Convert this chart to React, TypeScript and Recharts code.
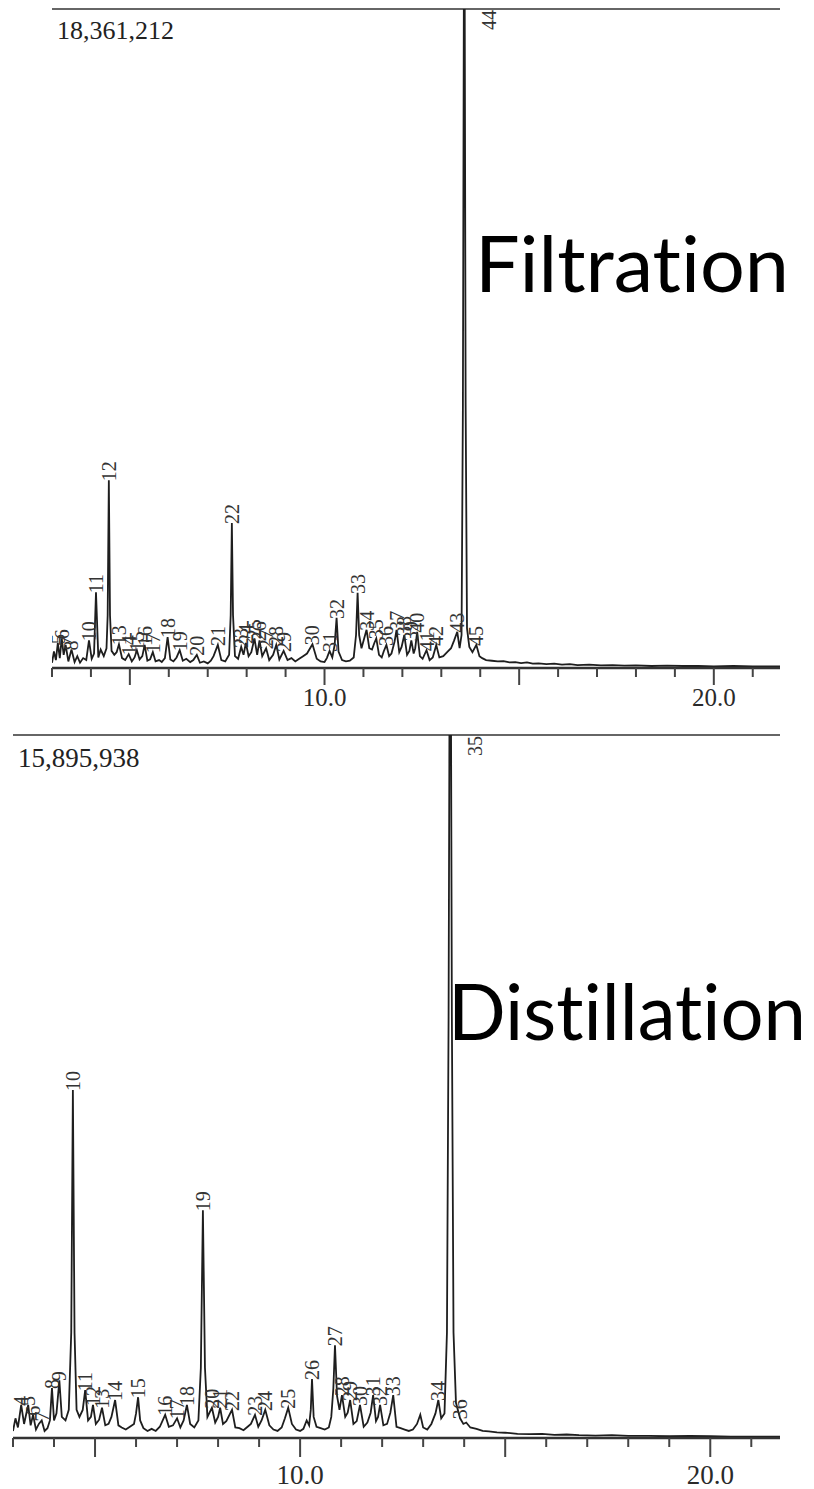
import {
  ComposedChart,
  Line,
  Scatter,
  XAxis,
  YAxis,
  ReferenceLine,
} from "recharts";

// retention time (min) vs. intensity (% of full scale)
const FILT_TRACE: [number, number][] = [
  [3.0, 0.8], [3.05, 2.5], [3.1, 1.2], [3.15, 3.8], [3.2, 1.5], [3.25, 4.5],
  [3.3, 2.0], [3.35, 3.5], [3.42, 1.0], [3.5, 2.8], [3.58, 0.9], [3.65, 1.8],
  [3.72, 0.8], [3.8, 1.5], [3.88, 1.2], [3.95, 4.2], [4.02, 1.4], [4.08, 2.2],
  [4.13, 11.5], [4.19, 1.6], [4.25, 2.8], [4.33, 1.8], [4.4, 3.0], [4.43, 8],
  [4.46, 28.5], [4.49, 8], [4.53, 2.6], [4.6, 2.0], [4.66, 2.4], [4.72, 3.6],
  [4.8, 1.5], [4.88, 1.2], [4.97, 2.1], [5.05, 1.0], [5.12, 1.6], [5.18, 2.7],
  [5.25, 1.3], [5.32, 1.8], [5.38, 3.5], [5.45, 1.1], [5.52, 1.3], [5.59, 2.4],
  [5.66, 1.0], [5.75, 1.2], [5.82, 0.9], [5.9, 1.5], [5.97, 4.7], [6.04, 1.3],
  [6.12, 1.0], [6.2, 1.6], [6.28, 2.7], [6.36, 1.1], [6.45, 1.4], [6.55, 0.9],
  [6.63, 1.2], [6.72, 2.0], [6.8, 0.8], [6.9, 1.0], [7.0, 0.7], [7.08, 1.1],
  [7.15, 1.8], [7.26, 3.5], [7.35, 1.2], [7.45, 1.0], [7.55, 2.0], [7.59, 8],
  [7.62, 22], [7.65, 8], [7.7, 1.8], [7.78, 1.4], [7.86, 3.2], [7.92, 2.0],
  [7.98, 3.8], [8.05, 1.8], [8.12, 2.4], [8.2, 4.5], [8.27, 2.0], [8.33, 4.2],
  [8.4, 1.8], [8.5, 3.0], [8.58, 1.2], [8.68, 2.0], [8.76, 3.5], [8.84, 1.3],
  [8.95, 2.6], [9.05, 1.2], [9.15, 1.5], [9.25, 1.0], [9.35, 1.4], [9.45, 1.8],
  [9.55, 2.2], [9.69, 3.6], [9.8, 1.4], [9.9, 1.0], [10.0, 0.9], [10.06, 1.5],
  [10.13, 2.6], [10.2, 1.6], [10.26, 3.5], [10.31, 7.6], [10.36, 2.5],
  [10.45, 1.2], [10.55, 1.0], [10.65, 1.1], [10.75, 1.6], [10.81, 5],
  [10.85, 11.4], [10.89, 5], [10.95, 3.0], [11.02, 4.5], [11.08, 5.8],
  [11.15, 3.0], [11.22, 2.8], [11.28, 3.8], [11.33, 4.5], [11.4, 2.0],
  [11.47, 1.6], [11.52, 2.5], [11.59, 3.5], [11.66, 1.8], [11.72, 2.2],
  [11.8, 4.0], [11.85, 5.8], [11.92, 2.4], [11.98, 3.2], [12.05, 5.0],
  [12.12, 2.0], [12.18, 2.6], [12.23, 4.2], [12.29, 2.2], [12.33, 3.0],
  [12.38, 5.5], [12.45, 1.8], [12.52, 1.4], [12.62, 2.7], [12.7, 1.2],
  [12.78, 1.6], [12.87, 3.5], [12.95, 1.6], [13.05, 1.8], [13.15, 2.4],
  [13.25, 3.0], [13.33, 4.2], [13.41, 5.5], [13.47, 3.0], [13.52, 5],
  [13.555, 40], [13.59, 130], [13.625, 40], [13.66, 6], [13.72, 3.2],
  [13.8, 2.4], [13.9, 3.5], [13.98, 1.8], [14.05, 1.5], [14.15, 1.2],
  [14.3, 1.1], [14.45, 1.0], [14.6, 1.05], [14.75, 0.85], [14.9, 0.9],
  [15.05, 0.75], [15.2, 0.85], [15.35, 0.65], [15.5, 0.7], [15.7, 0.6],
  [15.9, 0.65], [16.1, 0.5], [16.3, 0.6], [16.5, 0.45], [16.8, 0.5],
  [17.1, 0.4], [17.4, 0.45], [17.7, 0.35], [18.0, 0.4], [18.4, 0.3],
  [18.8, 0.35], [19.2, 0.3], [19.6, 0.3], [20.0, 0.25], [20.5, 0.3],
  [21.0, 0.25], [21.7, 0.25],
];

const FILT_LABELS: [string, number, number][] = [
  ["5", 3.15, 3.8], ["6", 3.25, 4.5], ["7", 3.35, 3.5], ["8", 3.5, 2.8],
  ["10", 3.95, 4.2], ["11", 4.13, 11.5], ["12", 4.46, 28.5], ["13", 4.72, 3.6],
  ["14", 4.97, 2.1], ["15", 5.18, 2.7], ["16", 5.38, 3.5], ["17", 5.59, 2.4],
  ["18", 5.97, 4.7], ["19", 6.28, 2.7], ["20", 6.72, 2.0], ["21", 7.26, 3.5],
  ["22", 7.62, 22], ["23", 7.86, 3.2], ["24", 7.98, 3.8], ["25", 8.2, 4.5],
  ["26", 8.33, 4.2], ["27", 8.5, 3.0], ["28", 8.76, 3.5], ["29", 8.95, 2.6],
  ["30", 9.69, 3.6], ["31", 10.13, 2.6], ["32", 10.31, 7.6], ["33", 10.85, 11.4],
  ["34", 11.08, 5.8], ["35", 11.33, 4.5], ["36", 11.59, 3.5], ["37", 11.85, 5.8],
  ["38", 12.05, 5.0], ["39", 12.23, 4.2], ["40", 12.38, 5.5], ["41", 12.62, 2.7],
  ["42", 12.87, 3.5], ["43", 13.41, 5.5], ["44", 13.59, 130], ["45", 13.9, 3.5],
];

const DIST_TRACE: [number, number][] = [
  [3.0, 1.0], [3.06, 2.8], [3.12, 1.5], [3.2, 4.7], [3.27, 2.0], [3.37, 4.7],
  [3.43, 1.8], [3.49, 3.3], [3.56, 1.2], [3.63, 2.0], [3.7, 2.5], [3.77, 1.0],
  [3.84, 1.4], [3.9, 2.5], [3.95, 7.1], [4.0, 2.5], [4.06, 3.5], [4.13, 8.2],
  [4.19, 3.0], [4.28, 2.5], [4.36, 4], [4.42, 15], [4.46, 49.5], [4.5, 15],
  [4.55, 4.0], [4.62, 3.0], [4.7, 4.0], [4.76, 6.8], [4.83, 2.5], [4.9, 3.0],
  [4.95, 4.7], [5.02, 2.0], [5.1, 2.6], [5.17, 4.3], [5.25, 1.8], [5.33, 2.0],
  [5.4, 3.0], [5.49, 5.4], [5.57, 1.8], [5.65, 1.5], [5.75, 1.2], [5.85, 1.6],
  [5.95, 2.0], [6.0, 3.5], [6.05, 5.8], [6.1, 2.5], [6.18, 1.4], [6.28, 1.0],
  [6.38, 1.3], [6.48, 1.0], [6.58, 1.6], [6.71, 3.3], [6.8, 1.6], [6.9, 1.8],
  [7.0, 2.8], [7.08, 1.5], [7.16, 2.5], [7.24, 4.7], [7.32, 2.0], [7.42, 1.5],
  [7.52, 2.5], [7.58, 10], [7.63, 32.4], [7.68, 10], [7.74, 3.0], [7.85, 4.3],
  [7.93, 2.2], [8.0, 3.0], [8.05, 4.3], [8.12, 2.0], [8.2, 2.4], [8.34, 4.0],
  [8.42, 1.5], [8.52, 1.4], [8.62, 1.1], [8.72, 1.6], [8.8, 2.0], [8.9, 3.3],
  [8.98, 1.6], [9.06, 2.5], [9.15, 4.0], [9.25, 1.8], [9.35, 1.2], [9.45, 1.0],
  [9.55, 1.5], [9.63, 2.8], [9.71, 4.3], [9.8, 2.0], [9.9, 1.2], [10.0, 1.0],
  [10.08, 1.3], [10.16, 2.5], [10.22, 1.8], [10.26, 4], [10.29, 8.4],
  [10.33, 3.0], [10.4, 1.6], [10.5, 1.4], [10.6, 1.2], [10.7, 1.5],
  [10.76, 3.0], [10.81, 7], [10.85, 13.2], [10.9, 6], [10.96, 4.0],
  [11.02, 6.1], [11.1, 3.0], [11.16, 3.6], [11.22, 5.4], [11.3, 2.0],
  [11.38, 2.4], [11.46, 4.7], [11.55, 1.6], [11.64, 2.2], [11.72, 3.6],
  [11.78, 6.1], [11.85, 2.4], [11.9, 3.0], [11.95, 4.7], [12.03, 1.8],
  [12.12, 2.0], [12.2, 3.6], [12.27, 6.1], [12.35, 1.6], [12.45, 1.4],
  [12.55, 1.2], [12.65, 1.0], [12.75, 1.2], [12.85, 2.0], [12.93, 3.3],
  [13.0, 1.5], [13.1, 1.2], [13.2, 2.0], [13.3, 3.5], [13.37, 5.4],
  [13.44, 2.8], [13.52, 3.5], [13.58, 15], [13.62, 60], [13.66, 140],
  [13.7, 60], [13.74, 15], [13.8, 5.0], [13.9, 2.8], [13.98, 2.0],
  [14.05, 2.2], [14.15, 1.5], [14.3, 1.3], [14.45, 1.0], [14.6, 0.95],
  [14.8, 0.8], [15.0, 0.75], [15.3, 0.6], [15.6, 0.55], [15.9, 0.6],
  [16.2, 0.45], [16.5, 0.5], [16.8, 0.4], [17.2, 0.35], [17.6, 0.4],
  [18.0, 0.3], [18.5, 0.3], [19.0, 0.25], [19.5, 0.3], [20.0, 0.25],
  [20.5, 0.2], [21.0, 0.2], [21.7, 0.2],
];

const DIST_LABELS: [string, number, number][] = [
  ["4", 3.2, 4.7], ["5", 3.37, 4.7], ["6", 3.49, 3.3], ["7", 3.7, 2.5],
  ["8", 3.95, 7.1], ["9", 4.13, 8.2], ["10", 4.46, 49.5], ["11", 4.76, 6.8],
  ["12", 4.95, 4.7], ["13", 5.17, 4.3], ["14", 5.49, 5.4], ["15", 6.05, 5.8],
  ["16", 6.71, 3.3], ["17", 7.0, 2.8], ["18", 7.24, 4.7], ["19", 7.63, 32.4],
  ["20", 7.85, 4.3], ["21", 8.05, 4.3], ["22", 8.34, 4.0], ["23", 8.9, 3.3],
  ["24", 9.15, 4.0], ["25", 9.71, 4.3], ["26", 10.29, 8.4], ["27", 10.85, 13.2],
  ["28", 11.02, 6.1], ["29", 11.22, 5.4], ["30", 11.46, 4.7], ["31", 11.78, 6.1],
  ["32", 11.95, 4.7], ["33", 12.27, 6.1], ["34", 13.37, 5.4], ["35", 13.66, 140],
  ["36", 13.9, 2.8],
];

const TIME_TICKS = [3, 4, 5, 6, 7, 8, 9, 10, 11, 12, 13, 14, 15, 16, 17, 18, 19, 20, 21];
const MAJOR_TICKS = [5, 10, 15, 20];
const TICK_LABELS: Record<number, string> = { 10: "10.0", 20: "20.0" };

const SERIF = "'Liberation Serif', 'Times New Roman', serif";
const SANS = "Lato, 'Liberation Sans', sans-serif";
const NO_LIGA = { fontVariantLigatures: "none", fontFeatureSettings: '"liga" 0, "dlig" 0, "clig" 0' } as const;

type ChromProps = {
  trace: [number, number][];
  labels: [string, number, number][];
  top: number;
  left: number;
  height: number;
  axisH: number;
  fontSize: number;
  labelGap: number;
  majorLen: number;
};

function Chromatogram({ trace, labels, top, left, height, axisH, fontSize, labelGap, majorLen }: ChromProps) {
  const data = trace.map(([t, v]) => ({ t, v }));
  const peaks = labels.map(([name, t, v]) => ({ t, v, name }));

  const renderTick = (props: any) => {
    const { x, y, payload } = props;
    const val = payload.value as number;
    const major = MAJOR_TICKS.includes(val);
    const text = TICK_LABELS[val];
    return (
      <g>
        <line x1={x} x2={x} y1={y} y2={y + (major ? majorLen : 9)} stroke="#444" strokeWidth={2} />
        {text && (
          <text x={x} y={y + labelGap} textAnchor="middle" fontFamily={SERIF} fontSize={fontSize} fill="#2a2a2a">
            {text}
          </text>
        )}
      </g>
    );
  };

  const renderPeakLabel = (props: any) => {
    const { cx, cy, payload } = props;
    let x = cx;
    let y = cy + 1;
    if (payload.v > 100) {
      // off-scale peak: its number sits at the top, beside the line
      x = cx + 25;
      y = top + 21;
    }
    return (
      <text
        x={x}
        y={y}
        transform={`rotate(-90 ${x} ${y})`}
        textAnchor="start"
        dominantBaseline="central"
        fontFamily={SERIF}
        fontSize={20}
        fill="#333"
      >
        {payload.name}
      </text>
    );
  };

  return (
    <ComposedChart
      width={814}
      height={height}
      data={data}
      margin={{ top, left, right: 34, bottom: 0 }}
    >
      <XAxis
        dataKey="t"
        type="number"
        domain={[3, 21.7]}
        allowDataOverflow
        ticks={TIME_TICKS}
        interval={0}
        tickSize={0}
        tickMargin={0}
        height={axisH}
        axisLine={{ stroke: "#333", strokeWidth: 2.5 }}
        tick={renderTick}
      />
      <YAxis
        type="number"
        domain={[0, 100]}
        allowDataOverflow
        width={0}
        tick={false}
        tickLine={false}
        axisLine={{ stroke: "#555", strokeWidth: 2.2 }}
      />
      <ReferenceLine y={100} stroke="#666" strokeWidth={2.2} />
      <Line
        dataKey="v"
        type="linear"
        dot={false}
        stroke="#1e1e1e"
        strokeWidth={1.8}
        isAnimationActive={false}
      />
      <Scatter
        data={peaks}
        dataKey="v"
        shape={renderPeakLabel}
        isAnimationActive={false}
      />
    </ComposedChart>
  );
}

export default function App() {
  return (
    <div style={{ position: "absolute", left: 0, top: 0, width: 814, height: 1489, background: "#fff" }}>
      <div style={{ position: "absolute", left: 0, top: 0 }}>
        <Chromatogram
          trace={FILT_TRACE}
          labels={FILT_LABELS}
          top={9}
          left={52}
          height={720}
          axisH={52}
          fontSize={25}
          labelGap={38}
          majorLen={17}
        />
      </div>
      <div style={{ position: "absolute", left: 0, top: 720 }}>
        <Chromatogram
          trace={DIST_TRACE}
          labels={DIST_LABELS}
          top={15}
          left={13}
          height={769}
          axisH={51}
          fontSize={27}
          labelGap={46}
          majorLen={19}
        />
      </div>
      <svg
        width={814}
        height={1489}
        style={{ position: "absolute", left: 0, top: 0, pointerEvents: "none" }}
      >
        <text x={57} y={39} fontFamily={SERIF} fontSize={26} fill="#222">18,361,212</text>
        <text x={18} y={767} fontFamily={SERIF} fontSize={27} fill="#222">15,895,938</text>
        <text x={475} y={292} fontFamily={SANS} fontSize={78} fill="#000" textLength={314} lengthAdjust="spacingAndGlyphs" style={NO_LIGA}>
          Filtration
        </text>
        <text x={448} y={1040} fontFamily={SANS} fontSize={78} fill="#000" textLength={358} lengthAdjust="spacingAndGlyphs" style={NO_LIGA}>
          Distillation
        </text>
      </svg>
    </div>
  );
}
